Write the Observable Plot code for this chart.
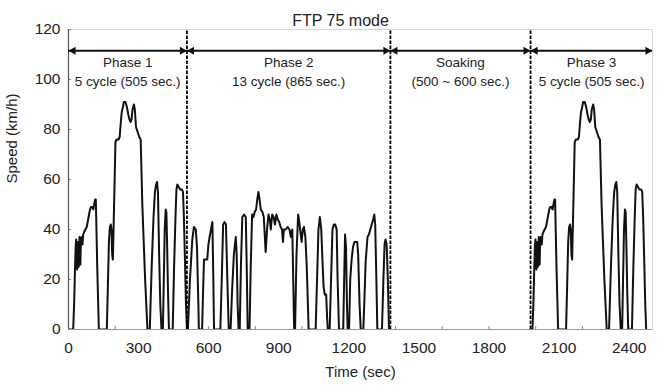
<!DOCTYPE html>
<html><head><meta charset="utf-8">
<script src="https://cdn.jsdelivr.net/npm/d3@7"></script>
<script src="https://cdn.jsdelivr.net/npm/@observablehq/plot@0.6"></script>
<style>
body{margin:0;background:#fff;}
#chart svg{font-family:"Liberation Sans",Arial,sans-serif;color:#222;background:#fff;}
</style>
</head><body><div id="chart"></div>
<script>
// ---- data: [time (s), speed (km/h)] ----
const phase1 = [[0,0],[20,0],[24,10],[28,25],[31,34],[33,36],[35,27],[37,24],[39,33],[41,35],[43,25],[45,26],[47,37],[49,30],[51,26],[53,36],[56,37],[60,34],[63,38],[67,39],[72,40],[78,41],[84,44],[88,46],[92,48],[96,49],[102,49],[106,48],[110,50],[114,52],[117,52],[123,25],[130,0],[164,0],[168,15],[173,35],[177,41],[181,42],[184,40],[187,30],[190,28],[194,45],[198,62],[201,75],[206,76],[214,76],[219,77],[224,83],[228,87],[233,89],[237,91],[244,91],[250,89],[256,86],[261,84],[266,83],[270,84],[274,88],[280,90],[284,88],[289,81],[296,79],[303,77],[309,76],[316,50],[328,20],[338,0],[348,0],[356,25],[364,45],[370,55],[375,58],[379,59],[383,55],[388,30],[393,10],[398,0],[404,0],[408,20],[412,40],[416,48],[419,47],[422,35],[426,15],[430,0],[446,0],[452,25],[458,45],[462,56],[466,58],[472,57],[478,56],[486,56],[490,55],[494,45],[498,30],[503,10],[507,0]];
const phase2 = [[507,0],[511,0],[520,20],[530,36],[537,41],[545,40],[550,33],[556,10],[558,0],[572,0],[576,15],[580,28],[594,28],[599,34],[604,37],[610,40],[616,43],[620,20],[623,0],[650,0],[656,20],[662,42],[668,43],[674,42],[680,20],[686,0],[694,0],[700,15],[708,30],[716,37],[720,30],[724,10],[728,0],[733,0],[738,25],[744,45],[752,46],[759,45],[763,25],[767,0],[775,0],[780,25],[786,46],[792,45],[797,47],[803,48],[808,52],[813,55],[818,52],[823,48],[830,47],[836,45],[840,38],[844,31],[850,40],[856,46],[862,44],[866,40],[872,46],[878,45],[884,42],[890,46],[896,44],[902,43],[908,41],[914,40],[918,35],[922,40],[930,40],[938,41],[946,40],[952,37],[958,40],[962,20],[966,0],[970,0],[976,30],[983,46],[988,43],[994,38],[998,35],[1003,40],[1008,41],[1014,37],[1020,25],[1028,0],[1058,0],[1064,20],[1070,40],[1076,45],[1082,40],[1087,28],[1092,17],[1097,14],[1103,14],[1107,5],[1110,0],[1118,0],[1124,20],[1130,40],[1136,42],[1142,42],[1148,40],[1152,20],[1158,0],[1176,0],[1180,20],[1184,38],[1188,33],[1192,10],[1195,0],[1201,0],[1206,20],[1212,28],[1218,33],[1224,35],[1236,35],[1240,30],[1246,10],[1251,0],[1262,0],[1266,10],[1272,27],[1280,37],[1286,38],[1292,40],[1298,42],[1304,44],[1309,46],[1313,42],[1318,20],[1322,0],[1342,0],[1348,20],[1353,34],[1357,36],[1362,34],[1367,20],[1372,0],[1378,0]];
const phase3 = [[1978,0],[1986,0],[1990,10],[1994,25],[1997,34],[1999,36],[2001,27],[2003,24],[2005,33],[2007,35],[2009,25],[2011,26],[2013,37],[2015,30],[2017,26],[2019,36],[2022,37],[2026,34],[2029,38],[2033,39],[2038,40],[2044,41],[2050,44],[2054,46],[2058,48],[2062,49],[2068,49],[2072,48],[2076,50],[2080,52],[2083,52],[2089,25],[2096,0],[2130,0],[2134,15],[2139,35],[2143,41],[2147,42],[2150,40],[2153,30],[2156,28],[2160,45],[2164,62],[2167,75],[2172,76],[2180,76],[2185,77],[2190,83],[2194,87],[2199,89],[2203,91],[2210,91],[2216,89],[2222,86],[2227,84],[2232,83],[2236,84],[2240,88],[2246,90],[2250,88],[2255,81],[2262,79],[2269,77],[2275,76],[2282,50],[2294,20],[2304,0],[2314,0],[2322,25],[2330,45],[2336,55],[2341,58],[2345,59],[2349,55],[2354,30],[2359,10],[2364,0],[2370,0],[2374,20],[2378,40],[2382,48],[2385,47],[2388,35],[2392,15],[2396,0],[2412,0],[2418,25],[2424,45],[2428,56],[2432,58],[2438,57],[2444,56],[2452,56],[2456,55],[2460,45],[2464,30],[2469,10],[2473,0]];

const boundaries = [0, 507, 1378, 1978, 2500];
const phaseNames = ["Phase 1", "Phase 2", "Soaking", "Phase 3"];
const phaseNotes = ["5 cycle (505 sec.)", "13 cycle (865 sec.)", "(500 ~ 600 sec.)", "5 cycle (505 sec.)"];
const xTickLabels = [0, 300, 600, 900, 1200, 1500, 1800, 2100, 2400];
const xMinorTicks = [0, 200, 400, 600, 800, 1000, 1200, 1400, 1600, 1800, 2000, 2200, 2400];
const yTicks = [0, 20, 40, 60, 80, 100, 120];
const arrowLevel = 111.5;

// ---- derived tables ----
const speed = [
  ...phase1.map(([t, v]) => ({t, v, phase: "1"})),
  ...phase2.map(([t, v]) => ({t, v, phase: "2"})),
  ...phase3.map(([t, v]) => ({t, v, phase: "3"}))
];
const segments = phaseNames.map((name, i) => ({
  x1: boundaries[i], x2: boundaries[i + 1], name, note: phaseNotes[i],
  mid: (boundaries[i] + boundaries[i + 1]) / 2
}));
const dividers = boundaries.slice(1, -1);

const chart = Plot.plot({
  width: 657,
  height: 389,
  marginLeft: 68,
  marginRight: 5,
  marginTop: 29,
  marginBottom: 60,
  x: {domain: [0, 2500], axis: null},
  y: {domain: [0, 120], axis: null},
  style: {fontFamily: "Liberation Sans, Arial, sans-serif", color: "#222", background: "#fff"},
  marks: [
    Plot.frame({stroke: "#d6d6d6"}),
    Plot.axisY(yTicks, {tickSize: -3, text: null, stroke: "#888", label: null}),
    Plot.axisX(xMinorTicks, {tickSize: -3, text: null, stroke: "#888", label: null}),
    Plot.axisY(yTicks, {tickSize: 0, tickPadding: 8, fontSize: 15.5, label: null, tickFormat: d => String(d)}),
    Plot.axisX(xTickLabels, {tickSize: 0, tickPadding: 12, fontSize: 15.5, label: null, tickFormat: d => String(d)}),
    Plot.line(speed, {x: "t", y: "v", z: "phase", stroke: "#111", strokeWidth: 2, clip: true}),
    Plot.ruleY([0], {stroke: "#9a9a9a", strokeWidth: 1.2}),
    Plot.ruleX([0], {stroke: "#555", strokeWidth: 1.2}),
    Plot.ruleX(dividers, {y1: 0, y2: 120, stroke: "#000", strokeWidth: 1.8, strokeDasharray: "3.5,1.5"}),
    Plot.ruleY(segments, {x1: "x1", x2: "x2", y: () => arrowLevel, stroke: "#111", strokeWidth: 2}),
    Plot.dot(segments, {x: "x2", y: () => arrowLevel, symbol: "triangle", r: 3, rotate: 90, dx: -4.7, fill: "#111", stroke: "none"}),
    Plot.dot(segments, {x: "x1", y: () => arrowLevel, symbol: "triangle", r: 3, rotate: -90, dx: 4.7, fill: "#111", stroke: "none"}),
    Plot.text(segments, {x: "mid", y: () => arrowLevel, text: "name", dy: 12, fontSize: 13.5, fill: "#222"}),
    Plot.text(segments, {x: "mid", y: () => arrowLevel, text: "note", dy: 31, fontSize: 13.5, fill: "#222"}),
    Plot.text(["FTP 75 mode"], {frameAnchor: "top", dx: -20, dy: -15, fontSize: 16, fill: "#222"}),
    Plot.text(["Speed (km/h)"], {frameAnchor: "left", rotate: -90, dx: -56, dy: 4, fontSize: 15, fill: "#222"}),
    Plot.text(["Time (sec)"], {frameAnchor: "bottom", dy: 47, fontSize: 15, fill: "#222"})
  ]
});
document.getElementById("chart").appendChild(chart);
</script>
</body></html>
